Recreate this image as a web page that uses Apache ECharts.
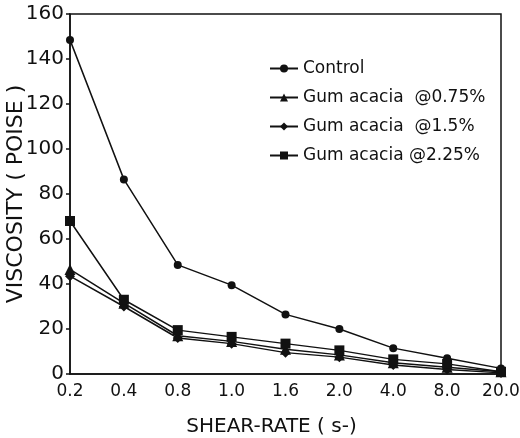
<!DOCTYPE html>
<html lang="en">
<head>
    <meta charset="UTF-8">
    <title>Viscosity vs shear rate</title>
    <script src="https://cdn.jsdelivr.net/npm/echarts@6/dist/echarts.min.js"></script>
    <style>
        html, body { margin: 0; padding: 0; background: #fff; }
        #chart { width: 520px; height: 438px; }
    </style>
</head>
<body>
    <div id="chart"></div>
    <script>
        // shear rate categories (s-1)
        const shearRates = ['0.2', '0.4', '0.8', '1.0', '1.6', '2.0', '4.0', '8.0', '20.0'];
        const yTicks = [0, 20, 40, 60, 80, 100, 120, 140, 160];

        // viscosity (poise)
        const control = [148.5, 86.5, 48.5, 39.5, 26.5, 20, 11.5, 7, 2.5];
        const gum075 = [46.5, 31.5, 17, 14.5, 11, 8.5, 5, 3, 1];
        const gum15 = [43.5, 30, 16, 13.5, 9.5, 7.5, 4, 2, 0.5];
        const gum225 = [68, 33, 19.5, 16.5, 13.5, 10.5, 6.5, 4.5, 1];

        const font = 'DejaVu Sans';

        function makeSeries(name, data, symbol, size) {
            return {
                name: name,
                type: 'line',
                data: data,
                symbol: symbol,
                symbolSize: size,
                lineStyle: { color: '#111', width: 1.5 },
                itemStyle: { color: '#111' },
                emphasis: { disabled: true }
            };
        }

        const chart = echarts.init(document.getElementById('chart'));
        chart.setOption({
            animation: false,
            textStyle: { fontFamily: font, color: '#111' },
            grid: {
                left: 70, right: 19, top: 14, bottom: 64,
                outerBoundsMode: 'none',
                show: true, borderColor: '#111', borderWidth: 1.5
            },
            legend: {
                orient: 'vertical',
                left: 264,
                top: 55,
                itemWidth: 28,
                itemHeight: 10,
                itemGap: 12,
                textStyle: { fontSize: 17, color: '#111', fontFamily: font },
                data: ['Control', 'Gum acacia  @0.75%', 'Gum acacia  @1.5%', 'Gum acacia @2.25%']
            },
            xAxis: {
                type: 'category',
                data: shearRates,
                boundaryGap: false,
                name: 'SHEAR-RATE ( s-)',
                nameLocation: 'middle',
                nameGap: 43,
                nameMoveOverlap: false,
                nameTextStyle: { fontSize: 20, color: '#111', padding: [0, 28, 0, 0] },
                axisLine: { lineStyle: { color: '#111', width: 1.5 } },
                axisTick: { show: false },
                axisLabel: { fontSize: 17, color: '#111', margin: 9 },
                splitLine: { show: false }
            },
            yAxis: {
                type: 'value',
                min: yTicks[0],
                max: yTicks[yTicks.length - 1],
                interval: 20,
                name: 'VISCOSITY ( POISE )',
                nameLocation: 'middle',
                nameGap: 43,
                nameMoveOverlap: false,
                nameTextStyle: { fontSize: 22, color: '#111' },
                axisLine: { show: true, lineStyle: { color: '#111', width: 1.5 } },
                axisTick: { show: true, length: 4, lineStyle: { color: '#111', width: 1.5 } },
                axisLabel: { fontSize: 20, color: '#111', margin: 6 },
                splitLine: { show: false }
            },
            series: [
                makeSeries('Control', control, 'circle', 8),
                makeSeries('Gum acacia  @0.75%', gum075, 'triangle', 11),
                makeSeries('Gum acacia  @1.5%', gum15, 'diamond', 10),
                makeSeries('Gum acacia @2.25%', gum225, 'rect', 10)
            ]
        });
    </script>
</body>
</html>
